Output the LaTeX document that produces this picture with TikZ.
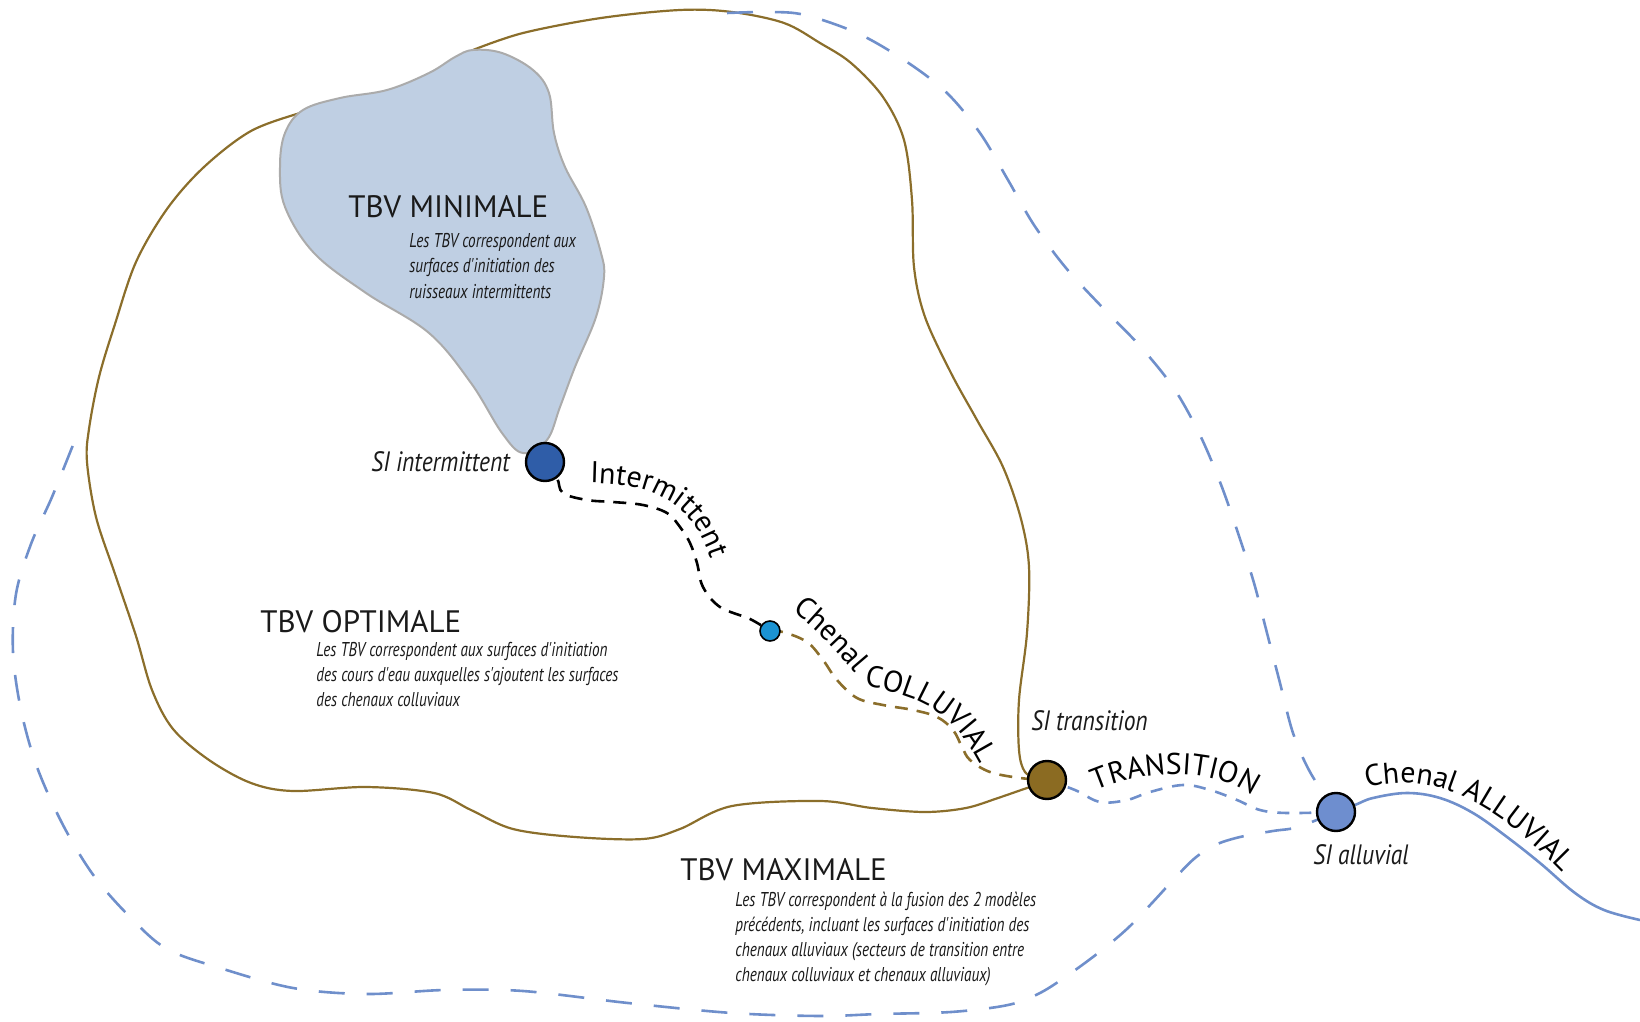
\documentclass[tikz,border=0pt]{standalone}
\usepackage{fontspec}
\setmainfont{PT Sans}
\newfontfamily\condfont{PT Sans}[FakeStretch=0.76]
\newfontfamily\sifont{PT Sans}[FakeStretch=0.84]
\usetikzlibrary{decorations.text}
\definecolor{brownc}{HTML}{8B6E2B}
\definecolor{blobfill}{HTML}{BFCFE3}
\definecolor{blobedge}{HTML}{ABABAB}
\definecolor{bluec}{HTML}{6F8FCB}
\definecolor{sintc}{HTML}{2F5DA8}
\definecolor{smallc}{HTML}{1B93D3}
\definecolor{strac}{HTML}{8B6B22}
\definecolor{sallc}{HTML}{6E8ECF}
\definecolor{textc}{HTML}{1A1A1A}
\newcommand\curvefont{\fontsize{15}{18}\selectfont}
\pgfdeclarelayer{background}
\pgfsetlayers{background,main}
\begin{document}
\begin{tikzpicture}[x=0.5pt,y=-0.5pt,
  brownline/.style={draw=brownc, line width=1.1pt},
  bigdash/.style={draw=bluec, line width=1.3pt, dash pattern=on 13pt off 11pt},
  shortdash/.style={line width=1.3pt, dash pattern=on 6.5pt off 4.5pt},
  site/.style={circle, draw=black, line width=1.2pt, minimum size=19pt, inner sep=0pt},
  heading/.style={anchor=base west, inner sep=0pt, text=textc, font=\fontsize{15.5}{18}\selectfont},
  desc/.style={anchor=base west, inner sep=0pt, text=textc, font=\condfont\itshape\fontsize{10}{12.5}\selectfont},
  silabel/.style={anchor=base west, inner sep=0pt, text=textc, font=\sifont\itshape\fontsize{14}{16}\selectfont},
  curved/.style={decorate, decoration={text along path, text align=left, text={|\curvefont|#1}}}
]
\useasboundingbox (0,0) rectangle (1640,1022);

% sites
\node[site, fill=sintc] (sint) at (545,462) {};
\node[site, fill=smallc, minimum size=10pt, line width=0.8pt] (small) at (770,631) {};
\node[site, fill=strac] (stra) at (1047,780) {};
\node[site, fill=sallc] (sall) at (1336,812) {};
\coordinate (riverend) at (1640,920);
\coordinate (maxtop) at (727,13);
\coordinate (maxleft) at (73,445);

\begin{pgfonlayer}{background}
% TBV optimale outline
\draw[brownline] plot[smooth, tension=0.55] coordinates {(1040,784) (1027,788) (998,798) (966,808) (925,812) (872,808) (820,801) (732,806) (680,829) (643,839) (575,837) (513,829) (471,810) (434,793) (366,787) (293,791) (251,783) (209,760) (173,729) (152,690) (136,636) (115,574) (96,517) (87,462) (89,429) (99,377) (115,324) (136,262) (167,209) (204,167) (251,131) (303,112) (312,110)};
\draw[brownline] plot[smooth, tension=0.55] coordinates {(473,50) (523,33) (601,18) (680,10) (732,12) (784,23) (820,43) (851,63) (883,97) (904,140) (912,200) (914,267) (925,317) (951,373) (977,420) (1003,467) (1021,519) (1029,567) (1027,633) (1019,700) (1019,750) (1025,772) (1040,780)};
% TBV minimale blob
\draw[draw=blobedge, fill=blobfill, line width=1pt] plot[smooth cycle, tension=0.6] coordinates {(473,50) (502,53) (533,70) (549,93) (554,133) (565,167) (586,207) (601,253) (604,277) (596,317) (575,367) (560,407) (547,440) (523,453) (502,433) (471,383) (429,333) (366,293) (314,253) (285,207) (280,167) (285,133) (303,110) (340,98) (387,90) (429,73) (455,57)};
% TBV maximale dashed outline
\draw[bigdash] plot[smooth, tension=0.55] coordinates {(maxtop) (770,12) (805,15) (857,33) (904,60) (946,92) (980,133) (1008,180) (1034,225) (1066,268) (1102,307) (1139,345) (1173,387) (1199,433) (1220,482) (1238,533) (1254,583) (1267,633) (1280,683) (1293,733) (1310,772) (sall.center)};
\draw[bigdash] plot[smooth, tension=0.55] coordinates {(sall.center) (1298,827) (1273,831) (1240,837) (1215,845) (1195,858) (1175,878) (1152,903) (1128,928) (1102,950) (1071,973) (1040,993) (1008,1005) (951,1012) (879,1014) (820,1016) (732,1013) (628,1003) (523,991) (445,990) (366,994) (293,988) (220,968) (167,949) (131,918) (94,876) (63,825) (37,767) (21,710) (13,652) (16,594) (31,544) (52,497) (maxleft)};
% channels
\draw[shortdash, draw=black] plot[smooth, tension=0.6] coordinates {(sint.center) (557,478) (563,493) (587,500) (613,502) (643,505) (667,513) (680,527) (690,543) (697,563) (703,587) (720,607) (750,619) (small.center)};
\draw[shortdash, draw=brownc] plot[smooth, tension=0.6] coordinates {(small.center) (783,632) (807,642) (823,660) (837,680) (857,698) (883,705) (913,710) (937,717) (953,730) (962,747) (970,760) (990,772) (1020,778) (stra.center)};
\draw[shortdash, draw=bluec, dash pattern=on 6pt off 5pt] plot[smooth, tension=0.6] coordinates {(stra.center) (1075,790) (1100,802) (1127,800) (1150,792) (1183,785) (1210,790) (1237,800) (1260,810) (1287,813) (sall.center)};
\draw[draw=bluec, line width=1.3pt] plot[smooth, tension=0.6] coordinates {(sall.center) (1355,805) (1373,798) (1407,793) (1440,798) (1473,813) (1507,837) (1540,863) (1575,893) (1604,910) (riverend)};
\end{pgfonlayer}

% curved channel labels
\path[curved=Intermittent] (590,483) .. controls (645,484) and (700,495) .. (716,580) -- (720,610);
\path[curved=Chenal] (792,611) .. controls (815,628) and (838,652) .. (858,676) -- (880,702);
\path[curved=COLLUVIAL] (864,686) .. controls (905,694) and (945,700) .. (978,760) -- (992,788);
\path[curved=TRANSITION] (1096,791) .. controls (1140,772) and (1200,765) .. (1246,792) -- (1270,808);
\path[curved={Chenal ALLUVIAL}] (1367,788) .. controls (1420,773) and (1480,788) .. (1560,870) -- (1585,896);

% headings and descriptions
\node[heading] (minT) at (348,218) {TBV MINIMALE};
\node[desc] (minD) at (409,248) {\vtop{\hbox{Les TBV correspondent aux}\hbox{surfaces d'initiation des}\hbox{ruisseaux intermittents}}};
\node[heading] (optT) at (260,632) {TBV OPTIMALE};
\node[desc] (optD) at (316,656) {\vtop{\hbox{Les TBV correspondent aux surfaces d'initiation}\hbox{des cours d'eau auxquelles s'ajoutent les surfaces}\hbox{des chenaux colluviaux}}};
\node[heading] (maxT) at (680,880) {TBV MAXIMALE};
\node[desc] (maxD) at (735,906) {\vtop{\hbox{Les TBV correspondent à la fusion des 2 modèles}\hbox{précédents, incluant les surfaces d'initiation des}\hbox{chenaux alluviaux (secteurs de transition entre}\hbox{chenaux colluviaux et chenaux alluviaux)}}};

% site labels
\node[silabel] (lint) at (371,471) {SI intermittent};
\node[silabel] (ltra) at (1031,730) {SI transition};
\node[silabel] (lall) at (1313,864) {SI alluvial};
\end{tikzpicture}
\end{document}
